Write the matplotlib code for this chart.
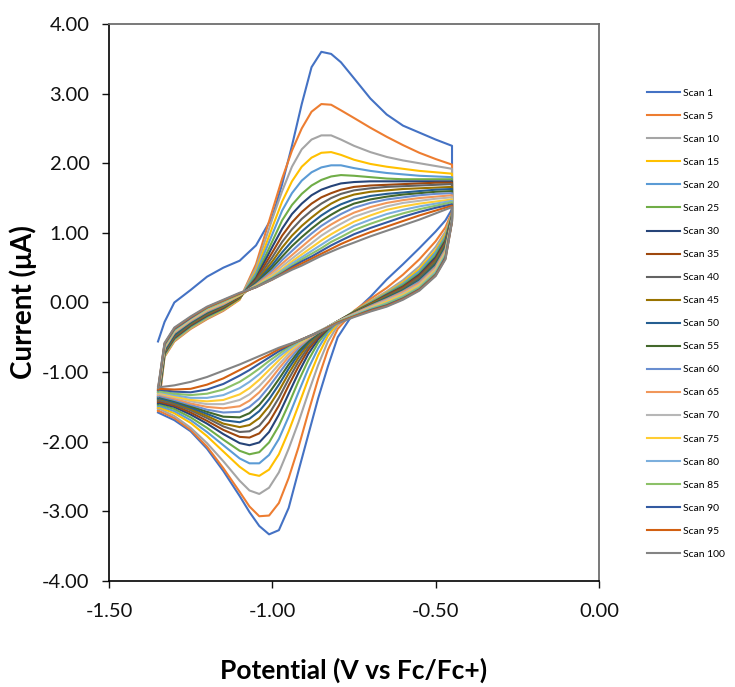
"""
plot.py
Cyclic voltammogram, scans 1-100 (every 5th), read off the reference figure.
"""
import matplotlib
matplotlib.use('Agg')
import matplotlib.pyplot as plt
from matplotlib.ticker import FormatStrFormatter

# potential grids (V vs Fc/Fc+) for the forward (anodic) and reverse (cathodic) sweeps
fwd_potential = [-1.35, -1.33, -1.30, -1.25, -1.20, -1.15, -1.10, -1.05, -1.00, -0.97, -0.94, -0.91,
                 -0.88, -0.85, -0.82, -0.79, -0.75, -0.70, -0.65, -0.60, -0.55, -0.50, -0.45]
rev_potential = [-0.45, -0.47, -0.50, -0.55, -0.60, -0.65, -0.70, -0.75, -0.80, -0.83, -0.86, -0.89,
                 -0.92, -0.95, -0.98, -1.01, -1.04, -1.07, -1.10, -1.15, -1.20, -1.25, -1.30, -1.35]

scan_labels = ["Scan 1", "Scan 5", "Scan 10", "Scan 15", "Scan 20", "Scan 25", "Scan 30",
               "Scan 35", "Scan 40", "Scan 45", "Scan 50", "Scan 55", "Scan 60", "Scan 65",
               "Scan 70", "Scan 75", "Scan 80", "Scan 85", "Scan 90", "Scan 95", "Scan 100"]

# current (uA) on the forward sweep, one row per scan
fwd_current = [
    [-0.56, -0.28, 0.00, 0.18, 0.37, 0.50, 0.60, 0.82, 1.23, 1.70, 2.25, 2.85, 3.38, 3.60, 3.57, 3.45, 3.22, 2.93, 2.70, 2.54, 2.44, 2.34, 2.25],
    [-1.56, -0.78, -0.56, -0.38, -0.24, -0.12, 0.04, 0.55, 1.32, 1.78, 2.18, 2.50, 2.74, 2.85, 2.84, 2.76, 2.65, 2.51, 2.38, 2.26, 2.15, 2.06, 1.98],
    [-1.53, -0.77, -0.55, -0.37, -0.23, -0.11, 0.05, 0.50, 1.20, 1.60, 1.95, 2.20, 2.34, 2.40, 2.40, 2.34, 2.25, 2.16, 2.09, 2.04, 2.00, 1.96, 1.92],
    [-1.51, -0.76, -0.54, -0.36, -0.22, -0.10, 0.05, 0.45, 1.08, 1.45, 1.74, 1.95, 2.08, 2.15, 2.16, 2.12, 2.05, 1.99, 1.95, 1.92, 1.89, 1.87, 1.85],
    [-1.49, -0.75, -0.53, -0.35, -0.21, -0.09, 0.06, 0.42, 0.98, 1.32, 1.57, 1.75, 1.87, 1.94, 1.97, 1.97, 1.93, 1.89, 1.86, 1.84, 1.82, 1.81, 1.80],
    [-1.47, -0.74, -0.52, -0.34, -0.20, -0.09, 0.06, 0.38, 0.88, 1.18, 1.40, 1.56, 1.68, 1.76, 1.81, 1.83, 1.82, 1.80, 1.78, 1.77, 1.77, 1.77, 1.77],
    [-1.45, -0.73, -0.51, -0.33, -0.19, -0.08, 0.07, 0.35, 0.80, 1.06, 1.27, 1.42, 1.54, 1.62, 1.67, 1.71, 1.73, 1.74, 1.74, 1.74, 1.74, 1.74, 1.74],
    [-1.43, -0.72, -0.50, -0.32, -0.18, -0.07, 0.07, 0.33, 0.72, 0.96, 1.15, 1.30, 1.42, 1.51, 1.57, 1.62, 1.66, 1.68, 1.69, 1.70, 1.71, 1.72, 1.72],
    [-1.41, -0.71, -0.49, -0.31, -0.17, -0.06, 0.08, 0.31, 0.65, 0.87, 1.05, 1.20, 1.32, 1.42, 1.50, 1.56, 1.61, 1.64, 1.66, 1.67, 1.68, 1.69, 1.70],
    [-1.39, -0.70, -0.48, -0.30, -0.16, -0.05, 0.08, 0.29, 0.59, 0.79, 0.96, 1.10, 1.22, 1.33, 1.42, 1.49, 1.55, 1.59, 1.61, 1.63, 1.64, 1.65, 1.66],
    [-1.38, -0.69, -0.47, -0.29, -0.15, -0.04, 0.09, 0.28, 0.54, 0.72, 0.88, 1.02, 1.14, 1.25, 1.34, 1.41, 1.48, 1.53, 1.56, 1.58, 1.60, 1.62, 1.63],
    [-1.36, -0.67, -0.45, -0.28, -0.14, -0.04, 0.09, 0.27, 0.50, 0.66, 0.81, 0.94, 1.06, 1.17, 1.26, 1.34, 1.42, 1.48, 1.52, 1.55, 1.57, 1.59, 1.60],
    [-1.35, -0.66, -0.44, -0.27, -0.13, -0.03, 0.10, 0.26, 0.46, 0.61, 0.74, 0.87, 0.99, 1.10, 1.19, 1.27, 1.36, 1.43, 1.48, 1.51, 1.54, 1.56, 1.57],
    [-1.33, -0.65, -0.43, -0.26, -0.12, -0.02, 0.10, 0.25, 0.43, 0.56, 0.68, 0.80, 0.92, 1.03, 1.12, 1.20, 1.29, 1.37, 1.43, 1.47, 1.50, 1.52, 1.54],
    [-1.32, -0.64, -0.42, -0.25, -0.11, -0.01, 0.11, 0.24, 0.40, 0.52, 0.63, 0.74, 0.85, 0.96, 1.05, 1.13, 1.23, 1.31, 1.38, 1.43, 1.46, 1.49, 1.51],
    [-1.30, -0.63, -0.41, -0.24, -0.10, 0.00, 0.11, 0.24, 0.38, 0.48, 0.59, 0.69, 0.79, 0.89, 0.98, 1.06, 1.16, 1.25, 1.33, 1.38, 1.42, 1.45, 1.48],
    [-1.29, -0.62, -0.40, -0.23, -0.09, 0.01, 0.12, 0.23, 0.36, 0.46, 0.56, 0.65, 0.74, 0.83, 0.92, 1.00, 1.10, 1.19, 1.27, 1.33, 1.38, 1.42, 1.46],
    [-1.28, -0.61, -0.39, -0.22, -0.08, 0.02, 0.12, 0.23, 0.35, 0.44, 0.53, 0.62, 0.70, 0.78, 0.87, 0.94, 1.04, 1.13, 1.21, 1.28, 1.34, 1.39, 1.44],
    [-1.26, -0.60, -0.38, -0.22, -0.07, 0.03, 0.13, 0.22, 0.34, 0.42, 0.51, 0.59, 0.66, 0.74, 0.82, 0.89, 0.98, 1.07, 1.15, 1.23, 1.30, 1.36, 1.41],
    [-1.25, -0.59, -0.37, -0.21, -0.07, 0.03, 0.13, 0.22, 0.33, 0.41, 0.49, 0.56, 0.63, 0.70, 0.77, 0.84, 0.92, 1.01, 1.09, 1.17, 1.25, 1.32, 1.39],
    [-1.23, -0.58, -0.36, -0.20, -0.06, 0.04, 0.14, 0.22, 0.33, 0.40, 0.47, 0.53, 0.60, 0.67, 0.73, 0.79, 0.86, 0.95, 1.03, 1.11, 1.19, 1.28, 1.37],
]

# current (uA) on the reverse sweep, one row per scan
rev_current = [
    [1.34, 1.18, 1.02, 0.78, 0.55, 0.33, 0.08, -0.14, -0.50, -0.92, -1.38, -1.90, -2.42, -2.95, -3.27, -3.33, -3.21, -3.01, -2.78, -2.42, -2.10, -1.85, -1.69, -1.58],
    [1.30, 1.08, 0.88, 0.62, 0.40, 0.21, 0.05, -0.12, -0.38, -0.68, -1.10, -1.58, -2.08, -2.52, -2.88, -3.06, -3.07, -2.93, -2.72, -2.38, -2.07, -1.83, -1.66, -1.55],
    [1.28, 1.02, 0.80, 0.52, 0.32, 0.16, 0.02, -0.13, -0.33, -0.56, -0.90, -1.30, -1.72, -2.10, -2.44, -2.66, -2.75, -2.70, -2.56, -2.28, -2.02, -1.80, -1.63, -1.52],
    [1.27, 0.98, 0.75, 0.48, 0.29, 0.14, 0.01, -0.13, -0.30, -0.48, -0.76, -1.10, -1.48, -1.85, -2.18, -2.40, -2.49, -2.46, -2.36, -2.14, -1.92, -1.73, -1.59, -1.50],
    [1.26, 0.95, 0.72, 0.45, 0.27, 0.13, 0.00, -0.13, -0.28, -0.43, -0.66, -0.95, -1.29, -1.64, -1.96, -2.19, -2.31, -2.31, -2.24, -2.05, -1.86, -1.69, -1.56, -1.48],
    [1.25, 0.92, 0.68, 0.42, 0.25, 0.12, -0.01, -0.13, -0.27, -0.40, -0.58, -0.83, -1.13, -1.46, -1.77, -2.01, -2.15, -2.18, -2.13, -1.97, -1.80, -1.65, -1.53, -1.46],
    [1.24, 0.89, 0.65, 0.40, 0.23, 0.11, -0.02, -0.14, -0.27, -0.38, -0.53, -0.74, -1.01, -1.31, -1.61, -1.86, -2.01, -2.05, -2.02, -1.89, -1.74, -1.61, -1.50, -1.44],
    [1.23, 0.87, 0.62, 0.38, 0.22, 0.10, -0.02, -0.14, -0.27, -0.37, -0.50, -0.68, -0.92, -1.19, -1.48, -1.72, -1.88, -1.94, -1.93, -1.83, -1.70, -1.58, -1.48, -1.42],
    [1.22, 0.85, 0.60, 0.36, 0.20, 0.09, -0.03, -0.15, -0.27, -0.36, -0.48, -0.64, -0.85, -1.10, -1.37, -1.60, -1.77, -1.85, -1.86, -1.78, -1.66, -1.55, -1.46, -1.40],
    [1.21, 0.83, 0.58, 0.34, 0.19, 0.08, -0.03, -0.15, -0.27, -0.35, -0.46, -0.60, -0.79, -1.02, -1.27, -1.49, -1.66, -1.76, -1.79, -1.74, -1.63, -1.53, -1.44, -1.38],
    [1.21, 0.81, 0.56, 0.33, 0.18, 0.07, -0.04, -0.15, -0.27, -0.35, -0.45, -0.57, -0.74, -0.95, -1.18, -1.39, -1.56, -1.67, -1.72, -1.69, -1.60, -1.51, -1.43, -1.37],
    [1.20, 0.79, 0.54, 0.31, 0.17, 0.06, -0.04, -0.15, -0.27, -0.35, -0.44, -0.55, -0.70, -0.89, -1.10, -1.30, -1.47, -1.59, -1.65, -1.64, -1.57, -1.49, -1.41, -1.35],
    [1.20, 0.77, 0.52, 0.30, 0.16, 0.05, -0.05, -0.16, -0.27, -0.35, -0.43, -0.53, -0.66, -0.83, -1.02, -1.21, -1.38, -1.50, -1.57, -1.58, -1.54, -1.47, -1.40, -1.34],
    [1.19, 0.75, 0.50, 0.28, 0.15, 0.04, -0.06, -0.16, -0.27, -0.35, -0.43, -0.52, -0.63, -0.78, -0.95, -1.13, -1.29, -1.41, -1.49, -1.52, -1.50, -1.45, -1.38, -1.32],
    [1.19, 0.73, 0.48, 0.26, 0.13, 0.03, -0.07, -0.17, -0.27, -0.35, -0.42, -0.51, -0.61, -0.74, -0.89, -1.05, -1.20, -1.32, -1.40, -1.46, -1.46, -1.42, -1.36, -1.31],
    [1.18, 0.71, 0.46, 0.24, 0.11, 0.01, -0.08, -0.18, -0.28, -0.35, -0.42, -0.50, -0.59, -0.70, -0.83, -0.97, -1.11, -1.23, -1.32, -1.40, -1.42, -1.40, -1.35, -1.29],
    [1.18, 0.69, 0.44, 0.22, 0.09, -0.01, -0.09, -0.18, -0.28, -0.35, -0.42, -0.49, -0.57, -0.67, -0.78, -0.90, -1.03, -1.14, -1.23, -1.33, -1.37, -1.37, -1.33, -1.28],
    [1.17, 0.67, 0.42, 0.21, 0.08, -0.02, -0.10, -0.19, -0.28, -0.36, -0.43, -0.49, -0.56, -0.64, -0.74, -0.84, -0.95, -1.05, -1.14, -1.25, -1.31, -1.33, -1.31, -1.27],
    [1.17, 0.65, 0.40, 0.19, 0.06, -0.04, -0.11, -0.20, -0.29, -0.36, -0.43, -0.49, -0.55, -0.62, -0.70, -0.79, -0.88, -0.97, -1.05, -1.17, -1.25, -1.29, -1.28, -1.25],
    [1.16, 0.63, 0.39, 0.18, 0.05, -0.05, -0.12, -0.20, -0.29, -0.36, -0.43, -0.49, -0.55, -0.61, -0.67, -0.75, -0.82, -0.90, -0.97, -1.09, -1.18, -1.24, -1.25, -1.24],
    [1.16, 0.62, 0.38, 0.17, 0.04, -0.06, -0.13, -0.21, -0.30, -0.37, -0.43, -0.49, -0.55, -0.60, -0.65, -0.71, -0.77, -0.83, -0.89, -0.98, -1.07, -1.14, -1.19, -1.22],
]

# Excel default series palette
colors = ["#4472C4", "#ED7D31", "#A5A5A5", "#FFC000", "#5B9BD5", "#70AD47", "#264478",
          "#9E480E", "#636363", "#997300", "#255E91", "#43682B", "#698ED0", "#F1975A",
          "#B7B7B7", "#FFCD33", "#7CAFDD", "#8CC168", "#335AA1", "#D26012", "#848484"]


def plot_cv():
    plt.rcParams['font.family'] = ['Lato', 'DejaVu Sans']

    fig = plt.figure(figsize=(7.35, 6.87), dpi=100)
    ax = fig.add_axes([0.1483, 0.1543, 0.6667, 0.8108])

    for label, fwd, rev, c in zip(scan_labels, fwd_current, rev_current, colors):
        ax.plot(fwd_potential + rev_potential, fwd + rev, color=c, lw=1.5, label=label)

    ax.set_xlim(-1.5, 0.0)
    ax.set_ylim(-4.0, 4.0)
    ax.set_xticks([-1.5, -1.0, -0.5, 0.0])
    ax.set_yticks([-4, -3, -2, -1, 0, 1, 2, 3, 4])
    ax.xaxis.set_major_formatter(FormatStrFormatter('%.2f'))
    ax.yaxis.set_major_formatter(FormatStrFormatter('%.2f'))
    ax.tick_params(direction='out', length=5, width=1, labelsize=14.5, colors='#111111')
    ax.tick_params(axis='x', pad=11)
    ax.tick_params(axis='y', pad=9)

    for side in ['left', 'bottom']:
        ax.spines[side].set_color('black')
        ax.spines[side].set_linewidth(1.2)
    for side in ['top', 'right']:
        ax.spines[side].set_color('#6e6e6e')
        ax.spines[side].set_linewidth(1.3)

    ax.set_xlabel("Potential (V vs Fc/Fc+)", fontsize=19, fontweight='bold', labelpad=27)
    ax.set_ylabel("Current (μA)", fontsize=20, fontweight='bold', labelpad=4)

    ax.legend(loc='upper left', bbox_to_anchor=(0.880, 0.871), bbox_transform=fig.transFigure,
              frameon=False, fontsize=7.5, handlelength=3.2, handletextpad=0.3,
              labelspacing=1.32, borderpad=0, borderaxespad=0)

    fig.savefig("out.png", dpi=100)


if __name__ == "__main__":
    plot_cv()
